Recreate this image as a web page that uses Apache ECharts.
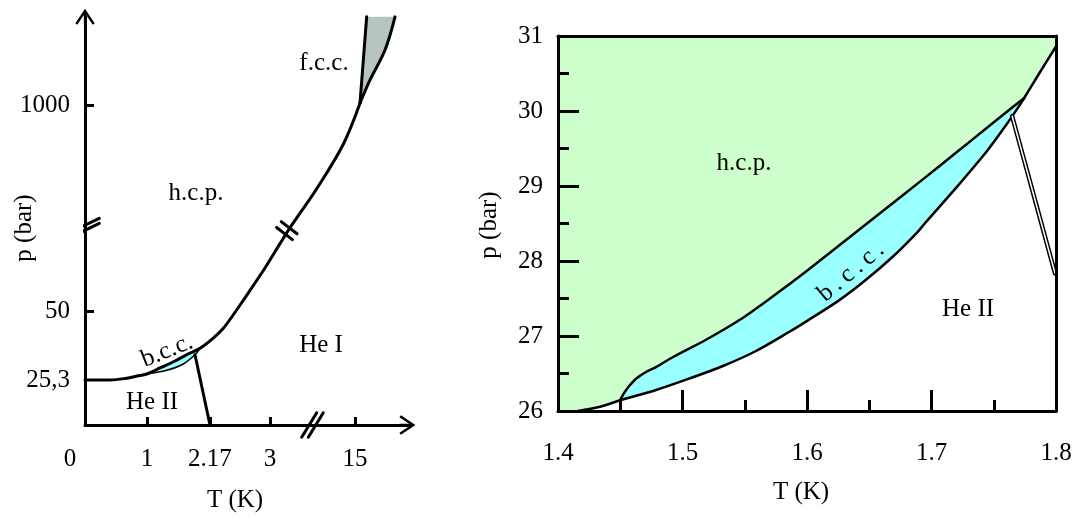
<!DOCTYPE html>
<html><head><meta charset="utf-8">
<script src="https://cdn.jsdelivr.net/npm/echarts@6/dist/echarts.min.js"></script>
<style>
html,body{margin:0;padding:0;background:#fff}
#c{width:1073px;height:521px}
</style>
</head><body><div id="c"></div>
<script>
// ===== Left panel: schematic He-4 phase diagram (broken axes, axis units = schematic positions)
const leftXTickPos    = [0, 1, 2.016, 2.984, 4.355];
const leftXTickLabels = ['0', '1', '2.17', '3', '15'];
const leftXTickMarks  = [1, 2.016, 2.984, 4.355];
const leftYTickPos    = [1.0, 2.533, 7.111];
const leftYTickLabels = ['25,3', '50', '1000'];
const leftYTickMarks  = [2.533, 7.111];

const leftMeltA   = [[0,1.0],[0.403,1.0],[0.645,1.033],[0.839,1.089],[0.995,1.133]];
const leftBccUpper= [[0.995,1.133],[1.21,1.267],[1.452,1.422],[1.661,1.578],[1.855,1.704]];
const leftBccLower= [[0.995,1.133],[1.318,1.215],[1.585,1.355],[1.774,1.56],[1.855,1.704]];
const leftMeltB   = [[1.855,1.704],[2.069,1.93],[2.231,2.15],[2.392,2.45],[2.553,2.77],[2.715,3.1],[2.931,3.55],[3.145,4.03],[3.334,4.44],[3.737,5.25],[4.166,6.24],[4.435,7.149]];
const leftLambda  = [[1.774,1.56],[2.016,0]];
const leftFccLeft = [[4.435,7.149],[4.543,9.07]];
const leftFccRight= [[4.435,7.149],[4.597,7.667],[4.839,8.333],[5.0,9.07]];
const leftBreakY  = [[[-0.215,4.296],[0.230,4.593]], [[-0.215,4.184],[0.230,4.482]]];
const leftBreakX  = [[[3.495,-0.273],[3.737,0.273]], [[3.602,-0.273],[3.843,0.273]]];
const leftBreakCurve = [[[3.09,4.39],[3.345,4.12]], [[3.165,4.52],[3.42,4.25]]];

// ===== Right panel: T (K) vs p (bar)
const rightMeltLow  = [[1.416,26.0],[1.433,26.053],[1.4498,26.143]];
const rightBccUpper = [[1.4498,26.143],[1.4533,26.244],[1.457,26.33],[1.4627,26.431],[1.4707,26.52],[1.4787,26.585],[1.4924,26.72],[1.5189,26.95],[1.5454,27.209],[1.5727,27.53],[1.6008,27.88],[1.6474,28.49],[1.6795,28.91],[1.706,29.26],[1.7333,29.625],[1.7598,29.98],[1.7743,30.17]];
const rightBccLower = [[1.4498,26.143],[1.4787,26.28],[1.5052,26.431],[1.5325,26.6],[1.559,26.8],[1.5855,27.053],[1.6008,27.209],[1.6257,27.475],[1.6474,27.75],[1.6691,28.06],[1.6876,28.365],[1.6956,28.52],[1.7197,28.975],[1.7438,29.45],[1.7598,29.81],[1.7703,30.065],[1.7743,30.17]];
const rightMeltHigh = [[1.7743,30.17],[1.7866,30.503],[1.8,30.86]];
const rightLambda   = [[1.7648,29.93],[1.7992,27.836]];

const FONT = 'Liberation Serif';
const BLACK = '#000';
const GREEN = '#ccffcc', CYAN = '#99ffff', GRAY = '#b6c5c2';
const arrowPath = 'path://M10,0 L20,15 L18,16.6 L11.2,6.4 L11.2,16.6 L8.8,16.6 L8.8,6.4 L2,16.6 L0,15 Z';

function nearest(arr, v) {
  let bi = 0, bd = Infinity;
  arr.forEach((a, i) => { const d = Math.abs(a - v); if (d < bd) { bd = d; bi = i; } });
  return bi;
}
function lineS(data, xi, yi, width, color, z, smooth) {
  return { type: 'line', xAxisIndex: xi, yAxisIndex: yi, data: data, showSymbol: false, symbol: 'none',
    smooth: smooth || false, lineStyle: { width: width, color: color, cap: 'round', join: 'round' },
    z: z, clip: false, silent: true, animation: false };
}
function polyS(points, xi, yi, fill, z) {
  return { type: 'custom', xAxisIndex: xi, yAxisIndex: yi, coordinateSystem: 'cartesian2d', z: z, silent: true,
    clip: false, data: [points[0]],
    renderItem: function (params, api) {
      return { type: 'polygon', shape: { points: points.map(p => api.coord(p)) }, style: { fill: fill, stroke: null } };
    } };
}
const lblStyle = { fontFamily: FONT, fontSize: 25, color: BLACK };
const tickLine = { color: BLACK, width: 3 };

const series = [];
series.push(polyS(leftBccUpper.concat(leftBccLower.slice().reverse()), 0, 0, CYAN, 1));
series.push(polyS(leftFccLeft.concat(leftFccRight.slice().reverse()), 0, 0, GRAY, 1));
series.push(lineS(leftMeltA.concat(leftBccUpper.slice(1), leftMeltB.slice(1)), 0, 0, 3, BLACK, 3, 0.35));
series.push(lineS(leftBccLower, 0, 0, 1.5, BLACK, 3, 0.35));
series.push(lineS(leftLambda, 0, 0, 3, BLACK, 3));
series.push(lineS(leftFccLeft, 0, 0, 3, BLACK, 3));
series.push(lineS(leftFccRight, 0, 0, 3, BLACK, 3, 0.35));
leftBreakY.concat(leftBreakX, leftBreakCurve).forEach(seg => series.push(lineS(seg, 0, 0, 3, BLACK, 3)));

const hcpPoly = [[1.4,26]].concat(rightMeltLow, rightBccUpper.slice(1), rightMeltHigh.slice(1), [[1.8,31],[1.4,31]]);
series.push(polyS(hcpPoly, 1, 1, GREEN, 1));
series.push(polyS(rightBccUpper.concat(rightBccLower.slice().reverse()), 1, 1, CYAN, 1));
series.push(lineS(rightMeltLow, 1, 1, 2.5, BLACK, 3, 0.3));
series.push(lineS(rightBccUpper, 1, 1, 2.5, BLACK, 3, 0.3));
series.push(lineS(rightBccLower, 1, 1, 2.5, BLACK, 3, 0.3));
series.push(lineS(rightMeltHigh, 1, 1, 2.5, BLACK, 3, 0.3));
series.push(lineS(rightLambda, 1, 1, 4.5, BLACK, 3));
series.push(lineS(rightLambda, 1, 1, 1.5, '#fff', 4));

function txt(text, x, y, deg) {
  return { type: 'text', x: x, y: y, rotation: (deg || 0) * Math.PI / 180, z: 100, silent: true,
    style: { text: text, fontFamily: FONT, fontSize: 25, fill: BLACK, align: 'center', verticalAlign: 'middle' } };
}

const option = {
  animation: false,
  backgroundColor: '#fff',
  textStyle: { fontFamily: FONT },
  grid: [
    { left: 85, top: 16.85, width: 322.4, height: 408.15, outerBoundsMode: 'none', containLabel: false },
    { left: 558, top: 36, width: 498, height: 375, outerBoundsMode: 'none', containLabel: false }
  ],
  xAxis: [
    { gridIndex: 0, type: 'value', min: 0, max: 5.2, z: 5,
      axisLine: { show: true, onZero: false, lineStyle: { color: BLACK, width: 3 }, symbol: ['none', arrowPath], symbolSize: [20, 16] },
      axisTick: { show: true, inside: true, length: 8, lineStyle: tickLine, customValues: leftXTickMarks },
      axisLabel: { show: true, customValues: leftXTickPos, margin: 22, fontFamily: FONT, fontSize: 25, color: BLACK,
        formatter: function (v) { const i = nearest(leftXTickPos, v); return i === 0 ? '{z|' + leftXTickLabels[i] + '}' : leftXTickLabels[i]; },
        rich: { z: { padding: [0, 30, 0, 0], fontFamily: FONT, fontSize: 25, color: BLACK } } },
      splitLine: { show: false } },
    { gridIndex: 1, type: 'value', min: 1.4, max: 1.8, interval: 0.1, z: 5,
      axisLine: { show: true, onZero: false, lineStyle: { color: BLACK, width: 3 } },
      axisTick: { show: true, inside: true, length: 21, lineStyle: tickLine },
      minorTick: { show: true, splitNumber: 2, length: 11, lineStyle: tickLine },
      axisLabel: Object.assign({ margin: 30, formatter: v => v.toFixed(1) }, lblStyle),
      splitLine: { show: false }, minorSplitLine: { show: false } },
    { gridIndex: 1, type: 'value', position: 'top', min: 1.4, max: 1.8, z: 5,
      axisLine: { show: true, onZero: false, lineStyle: { color: BLACK, width: 3 } },
      axisTick: { show: false }, axisLabel: { show: false }, splitLine: { show: false } }
  ],
  yAxis: [
    { gridIndex: 0, type: 'value', min: 0, max: 9.07, z: 5,
      axisLine: { show: true, onZero: false, lineStyle: { color: BLACK, width: 3 }, symbol: ['none', arrowPath], symbolSize: [20, 16] },
      axisTick: { show: true, inside: true, length: 9, lineStyle: tickLine, customValues: leftYTickMarks },
      axisLabel: Object.assign({ customValues: leftYTickPos, margin: 15,
        formatter: function (v) { return leftYTickLabels[nearest(leftYTickPos, v)]; } }, lblStyle),
      splitLine: { show: false } },
    { gridIndex: 1, type: 'value', min: 26, max: 31, interval: 1, z: 5,
      axisLine: { show: true, onZero: false, lineStyle: { color: BLACK, width: 3 } },
      axisTick: { show: true, inside: true, length: 21, lineStyle: tickLine },
      minorTick: { show: true, splitNumber: 2, length: 11, lineStyle: tickLine },
      axisLabel: Object.assign({ margin: 15 }, lblStyle),
      splitLine: { show: false }, minorSplitLine: { show: false } },
    { gridIndex: 1, type: 'value', position: 'right', min: 26, max: 31, z: 5,
      axisLine: { show: true, onZero: false, lineStyle: { color: BLACK, width: 3 } },
      axisTick: { show: false }, axisLabel: { show: false }, splitLine: { show: false } }
  ],
  series: series,
  graphic: [
    txt('h.c.p.', 196, 193), txt('f.c.c.', 324, 63), txt('He I', 321, 345), txt('He II', 152, 402),
    txt('b.c.c.', 167, 351, 22), txt('p (bar)', 24, 228, 90), txt('T (K)', 235, 500),
    txt('h.c.p.', 744, 163), txt('He II', 968, 309), txt('b\u2009.\u2009c\u2009.\u2009c\u2009.', 851, 272, 40),
    txt('p (bar)', 489, 225, 90), txt('T (K)', 801, 492)
  ]
};
const chart = echarts.init(document.getElementById('c'), null, { renderer: 'canvas', width: 1073, height: 521 });
chart.setOption(option);
</script></body></html>
